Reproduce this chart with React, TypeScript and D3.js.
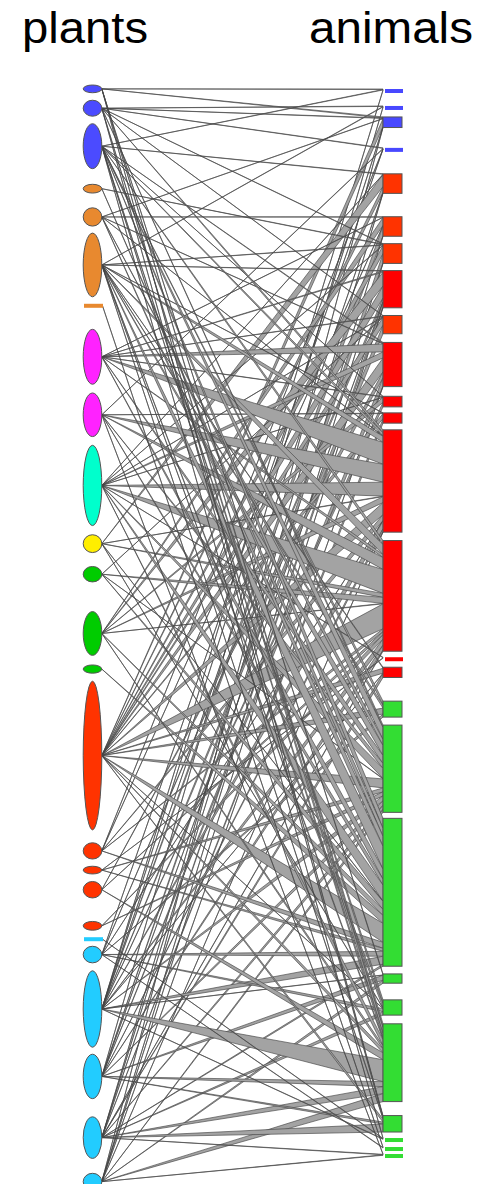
import { useEffect, useRef } from 'react'
import * as d3 from 'd3'

// plant groups (0 blue, 1 orange, 2 magenta, 3 aquamarine, 4 yellow, 5 green, 6 red, 7 cyan)
const plantGroup = [0, 0, 0, 1, 1, 1, 1, 2, 2, 3, 4, 5, 5, 5, 6, 6, 6, 6, 6, 7, 7, 7, 7, 7, 7]
const plantAbundance = [8, 16, 52, 16, 16, 60, 18, 55, 44, 80, 24, 37, 45, 9, 150, 16, 8, 32, 7, 2, 17, 70, 54, 48, 16]

// animal groups (0 blue, 1 orange-red, 2 red, 3 green)
const animalGroup = [0, 0, 0, 0, 1, 1, 1, 2, 1, 2, 2, 2, 2, 2, 2, 2, 3, 3, 3, 3, 3, 3, 3, 3, 3, 3]
const animalAbundance = [11, 5, 25, 20, 37, 21, 21, 39, 21, 48, 10, 11, 105, 111, 4, 28, 18, 87, 150, 20, 18, 86, 15, 3, 1, 4]

// [plant, animal, interactions] (1-based ids)
const links: [number, number, number][] = [
  [1, 1, .5], [3, 1, .5], [22, 1, .3],
  [2, 2, .5], [6, 2, .5], [23, 2, .3],
  [1, 3, 1], [2, 3, .5], [5, 3, .3], [15, 3, 8], [22, 3, .5], [25, 3, .3],
  [2, 4, .5], [9, 4, .5], [16, 4, .3], [21, 4, .3],
  [3, 5, .5], [10, 5, .3], [11, 5, 12], [15, 5, 6], [22, 5, .3], [24, 5, .5],
  [5, 6, .5], [8, 6, .3], [13, 6, 8], [16, 6, .5], [22, 6, 10], [24, 6, .3],
  [2, 7, .5], [4, 7, .5], [6, 7, .5], [10, 7, .5], [15, 7, 8], [23, 7, 9.5], [25, 7, .3],
  [6, 8, .5], [8, 8, 1], [13, 8, 14], [15, 8, 12], [21, 8, 4], [23, 8, .3], [24, 8, 5], [25, 8, .5],
  [2, 9, .5], [8, 9, .5], [10, 9, .3], [12, 9, .5], [15, 9, 8], [22, 9, 8.5],
  [3, 10, 1], [5, 10, .5], [8, 10, 8], [10, 10, 6], [15, 10, 14], [18, 10, 6], [23, 10, 8.5], [25, 10, .3],
  [3, 11, .3], [8, 11, .5], [10, 11, .3], [13, 11, 5], [22, 11, 4.5],
  [6, 12, .3], [9, 12, .5], [15, 12, 5], [24, 12, 4.5],
  [2, 13, 3], [3, 13, 3], [5, 13, .5], [6, 13, 6], [8, 13, 22], [9, 13, 18], [10, 13, 14], [11, 13, .5], [13, 13, 6], [15, 13, 12], [16, 13, 6], [21, 13, .3], [22, 13, 8], [23, 13, 3], [25, 13, .3],
  [3, 14, 4], [6, 14, 10], [8, 14, 3], [9, 14, 12], [10, 14, 24], [11, 14, 4], [12, 14, 6], [13, 14, .5], [15, 14, 25], [16, 14, 3], [18, 14, 3], [19, 14, 4.5], [22, 14, 6], [23, 14, 5], [24, 14, 1],
  [10, 15, .5], [17, 15, .5],
  [6, 16, 1], [15, 16, 5], [22, 16, .3], [24, 16, 4],
  [3, 17, 4], [6, 17, 3], [15, 17, 6], [21, 17, 3],
  [2, 18, 2.5], [3, 18, 12], [5, 18, 6], [6, 18, 10], [8, 18, 8], [9, 18, 5], [10, 18, 10], [12, 18, .5], [15, 18, 9], [17, 18, 4], [19, 18, 4], [22, 18, 5], [23, 18, 4.5], [24, 18, 4], [25, 18, 3],
  [3, 19, 10], [4, 19, 8], [5, 19, 10], [6, 19, 23], [8, 19, 10], [9, 19, 6], [10, 19, 16], [11, 19, .3], [12, 19, 8], [13, 19, 6], [14, 19, 8], [15, 19, 19], [16, 19, 6], [17, 19, 3], [21, 19, 5], [22, 19, 8], [24, 19, 2],
  [1, 20, 1], [22, 20, .3], [23, 20, 5], [25, 20, 3],
  [3, 21, 4], [6, 21, 4], [11, 21, .5], [15, 21, .3], [21, 21, 3], [24, 21, 3.5],
  [1, 22, 4], [2, 22, 6], [3, 22, 4], [6, 22, 2], [10, 22, 6], [13, 22, 3], [15, 22, 4], [18, 22, 7], [22, 22, 22], [23, 22, 5], [24, 22, 7], [25, 22, 8],
  [1, 23, 1], [2, 23, 1.5], [6, 23, 1], [15, 23, 3], [23, 23, 2], [24, 23, 8],
  [3, 24, .3], [20, 24, .5], [22, 24, .5],
  [7, 25, .5], [21, 25, .5],
  [9, 26, .3], [24, 26, .5], [25, 26, .5],
]

const plantPalette = ['#4b4bff', '#e8892f', '#ff22ff', '#00ffcc', '#ffee00', '#00cc00', '#ff3300', '#22ccff']
const animalPalette = ['#4848ff', '#ff3300', '#ff0000', '#33dd33']

const W = 488
const H = 1184

// stack nodes top-aligned in slots of max(abundance, interactions)
function stack(abund: number[], totals: number[], top: number, bottom: number, gap: number) {
  const slots = abund.map((a, i) => Math.max(a, totals[i]))
  const k = d3.scaleLinear()
    .domain([0, d3.sum(slots)])
    .range([0, bottom - top - gap * (slots.length - 1)])
  let y = top
  return slots.map((s, i) => {
    const y0 = y
    y += k(s) + gap
    return { y0, h: k(totals[i]), k: k(1) }
  })
}

export default function App() {
  const svgRef = useRef<SVGSVGElement>(null)

  useEffect(() => {
    if (!svgRef.current) return
    const svg = d3.select(svgRef.current)
    svg.selectAll('*').remove()

    const plantTot = plantGroup.map((_, i) => d3.sum(links.filter(l => l[0] === i + 1), l => l[2]))
    const animalTot = animalGroup.map((_, i) => d3.sum(links.filter(l => l[1] === i + 1), l => l[2]))

    const pl = stack(plantAbundance, plantTot, 85, 1190, 7)
    const an = stack(animalAbundance, animalTot, 89, 1158, 6)

    const pcx = 92.5
    const prx = 9.3
    const ax = 383
    const aw = 19

    const isBar = (h: number) => h < 3
    const plantY = (i: number) => isBar(pl[i].h) ? pl[i].y0 + 2 : pl[i].y0 + pl[i].h / 2

    // link polygons, stacked on the animal side in plant order
    const polys: { d: string }[] = []
    animalGroup.forEach((_, j) => {
      const ls = links.filter(l => l[1] === j + 1).sort((a, b) => a[0] - b[0])
      let cum = an[j].y0
      ls.forEach(l => {
        const w = l[2] * an[j].k
        const p = l[0] - 1
        const x0 = isBar(pl[p].h) ? pcx + 10 : pcx + prx
        const path = d3.path()
        path.moveTo(x0, plantY(p))
        path.lineTo(ax, cum)
        path.lineTo(ax, cum + w)
        path.closePath()
        polys.push({ d: path.toString() })
        cum += w
      })
    })

    svg.append('g')
      .selectAll('path')
      .data(polys)
      .enter()
      .append('path')
      .attr('d', d => d.d)
      .attr('fill', '#a3a3a3')
      .attr('stroke', '#444')
      .attr('stroke-width', 0.65)
      .attr('stroke-linejoin', 'round')

    // plants
    const gp = svg.append('g')
    pl.forEach((n, i) => {
      const col = plantPalette[plantGroup[i]]
      if (isBar(n.h)) {
        gp.append('rect')
          .attr('x', pcx - 8.5).attr('y', n.y0)
          .attr('width', 19).attr('height', 4)
          .attr('fill', col)
      } else {
        gp.append('ellipse')
          .attr('cx', pcx).attr('cy', n.y0 + n.h / 2)
          .attr('rx', prx).attr('ry', n.h / 2)
          .attr('fill', col)
          .attr('stroke', '#555')
          .attr('stroke-width', 1)
      }
    })

    // animals
    const ga = svg.append('g')
    an.forEach((n, j) => {
      const col = animalPalette[animalGroup[j]]
      if (isBar(n.h)) {
        ga.append('rect')
          .attr('x', ax + 2).attr('y', n.y0)
          .attr('width', aw - 1).attr('height', 4)
          .attr('fill', col)
      } else {
        ga.append('rect')
          .attr('x', ax).attr('y', n.y0)
          .attr('width', aw).attr('height', n.h)
          .attr('fill', col)
          .attr('stroke', '#555')
          .attr('stroke-width', 1)
      }
    })

    // titles
    svg.append('text')
      .attr('x', 85).attr('y', 43)
      .attr('text-anchor', 'middle')
      .attr('font-family', '"Liberation Sans", Arial, sans-serif')
      .attr('font-size', 44)
      .attr('textLength', 126)
      .attr('lengthAdjust', 'spacingAndGlyphs')
      .text('plants')
    svg.append('text')
      .attr('x', 391).attr('y', 43)
      .attr('text-anchor', 'middle')
      .attr('font-family', '"Liberation Sans", Arial, sans-serif')
      .attr('font-size', 44)
      .attr('textLength', 164)
      .attr('lengthAdjust', 'spacingAndGlyphs')
      .text('animals')
  }, [])

  return (
    <svg
      ref={svgRef}
      width={W}
      height={H}
      style={{ position: 'absolute', left: 0, top: 0, display: 'block', background: '#fff' }}
    />
  )
}
